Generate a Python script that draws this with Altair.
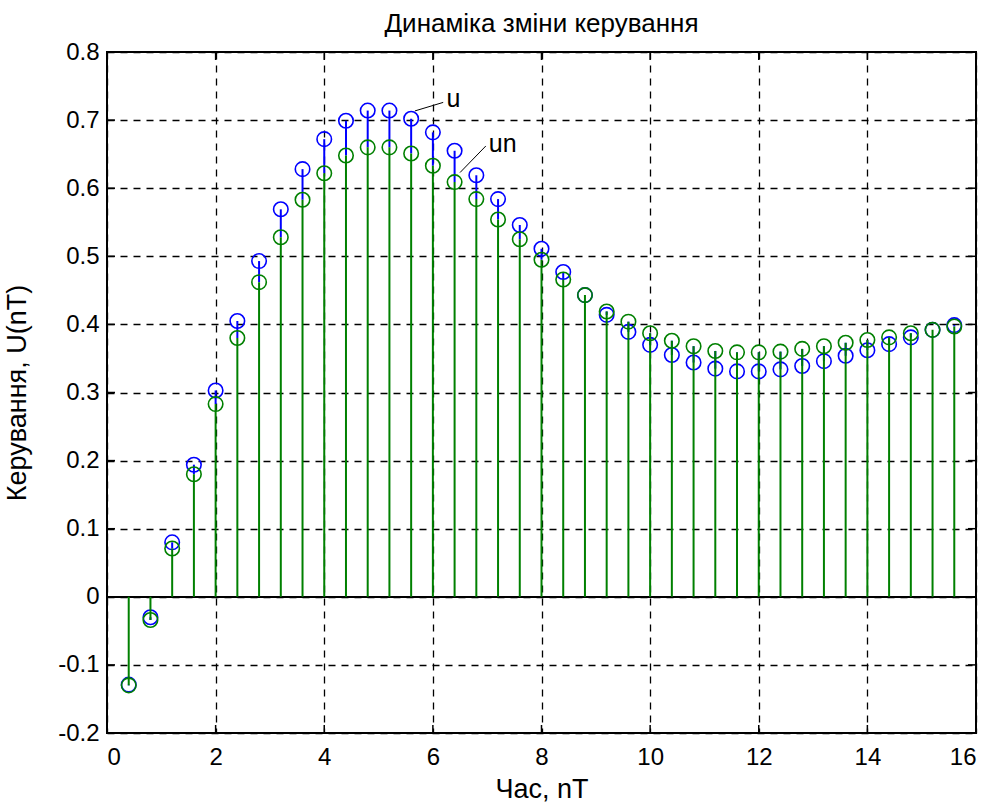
import altair as alt
import pandas as pd

# ---- data ----
t = [0.4, 0.8, 1.2, 1.6, 2.0, 2.4, 2.8, 3.2, 3.6, 4.0, 4.4, 4.8, 5.2, 5.6, 6.0,
     6.4, 6.8, 7.2, 7.6, 8.0, 8.4, 8.8, 9.2, 9.6, 10.0, 10.4, 10.8, 11.2, 11.6,
     12.0, 12.4, 12.8, 13.2, 13.6, 14.0, 14.4, 14.8, 15.2, 15.6]
u = [-0.129, -0.030, 0.080, 0.194, 0.303, 0.405, 0.493, 0.569, 0.628, 0.672,
     0.699, 0.714, 0.714, 0.702, 0.682, 0.655, 0.619, 0.584, 0.546, 0.511,
     0.477, 0.443, 0.414, 0.389, 0.370, 0.355, 0.344, 0.335, 0.331, 0.331,
     0.334, 0.339, 0.346, 0.354, 0.362, 0.371, 0.381, 0.392, 0.399]
un = [-0.130, -0.034, 0.071, 0.180, 0.283, 0.380, 0.462, 0.528, 0.583, 0.622,
      0.648, 0.660, 0.660, 0.651, 0.633, 0.609, 0.584, 0.554, 0.525, 0.495,
      0.466, 0.443, 0.419, 0.404, 0.387, 0.376, 0.368, 0.361, 0.359, 0.359,
      0.360, 0.364, 0.368, 0.373, 0.377, 0.381, 0.387, 0.392, 0.397]

x_ticks = [0, 2, 4, 6, 8, 10, 12, 14, 16]
y_ticks = [-0.2, -0.1, 0, 0.1, 0.2, 0.3, 0.4, 0.5, 0.6, 0.7, 0.8]

title_text = "Динаміка зміни керування"
x_title = "Час, nT"
y_title = "Керування, U(nT)"

# annotations (data coordinates)
ann_labels = ["u", "un"]
ann_text_x = [6.25, 7.03]
ann_text_y = [0.731, 0.665]
ann_line_x1 = [5.67, 6.50]
ann_line_y1 = [0.7135, 0.623]
ann_line_x2 = [6.19, 6.975]
ann_line_y2 = [0.726, 0.662]

FONT = "Liberation Sans, Arial, Helvetica, sans-serif"
W, H = 869, 681
BLUE = "#0000ff"
GREEN = "#008000"

df = pd.DataFrame({"t": t, "u": u, "un": un})
ann = pd.DataFrame({"label": ann_labels, "tx": ann_text_x, "ty": ann_text_y,
                    "x1": ann_line_x1, "y1": ann_line_y1,
                    "x2": ann_line_x2, "y2": ann_line_y2})
xt = pd.DataFrame({"v": x_ticks})
yt = pd.DataFrame({"v": y_ticks})

xs = alt.Scale(domain=[0, 16], nice=False, zero=False)
ys = alt.Scale(domain=[-0.2, 0.8], nice=False, zero=False)

x_axis = alt.Axis(values=x_ticks, title=x_title, grid=True, ticks=False,
                  domain=False, labelPadding=12, titlePadding=7,
                  labelExpr="toString(datum.value)")
y_axis = alt.Axis(values=y_ticks, title=y_title, grid=True, ticks=False,
                  domain=False, labelPadding=8, titlePadding=26,
                  labelExpr="toString(datum.value)")

base = alt.Chart(df)

# blue stems: visible part above the green stem (green is drawn over it)
blue_stem = base.mark_rule(color=BLUE, strokeWidth=2).encode(
    x=alt.X("t:Q", scale=xs, axis=x_axis),
    y=alt.Y("u:Q", scale=ys, axis=y_axis),
    y2="un:Q",
)
baseline = alt.Chart(xt).mark_rule(color="black", strokeWidth=1.5).encode(
    y=alt.datum(0, scale=ys), x=alt.value(0), x2=alt.value(W)
)
blue_pts = base.mark_point(shape="circle", color=BLUE, size=210,
                           strokeWidth=1.6, filled=False, opacity=1).encode(
    x=alt.X("t:Q", scale=xs), y=alt.Y("u:Q", scale=ys)
)
green_stem = base.mark_rule(color=GREEN, strokeWidth=2).encode(
    x=alt.X("t:Q", scale=xs), y=alt.Y("un:Q", scale=ys), y2=alt.datum(0)
)
green_pts = base.mark_point(shape="circle", color=GREEN, size=210,
                            strokeWidth=1.6, filled=False, opacity=1).encode(
    x=alt.X("t:Q", scale=xs), y=alt.Y("un:Q", scale=ys)
)

# inward tick marks (MATLAB style)
TL = 8
xtick_bot = alt.Chart(xt).mark_rule(color="black", strokeWidth=1.5).encode(
    x=alt.X("v:Q", scale=xs), y=alt.value(H), y2=alt.value(H - TL))
xtick_top = alt.Chart(xt).mark_rule(color="black", strokeWidth=1.5).encode(
    x=alt.X("v:Q", scale=xs), y=alt.value(0), y2=alt.value(TL))
ytick_l = alt.Chart(yt).mark_rule(color="black", strokeWidth=1.5).encode(
    y=alt.Y("v:Q", scale=ys), x=alt.value(0), x2=alt.value(TL))
ytick_r = alt.Chart(yt).mark_rule(color="black", strokeWidth=1.5).encode(
    y=alt.Y("v:Q", scale=ys), x=alt.value(W), x2=alt.value(W - TL))

ann_lines = alt.Chart(ann).mark_rule(color="black", strokeWidth=1).encode(
    x=alt.X("x1:Q", scale=xs), y=alt.Y("y1:Q", scale=ys),
    x2="x2:Q", y2="y2:Q")
ann_text = alt.Chart(ann).mark_text(align="left", baseline="middle",
                                    font=FONT, fontSize=25, color="black").encode(
    x=alt.X("tx:Q", scale=xs), y=alt.Y("ty:Q", scale=ys), text="label:N")

chart = alt.layer(
    blue_stem, baseline, blue_pts, green_stem, green_pts,
    xtick_bot, xtick_top, ytick_l, ytick_r, ann_lines, ann_text
).properties(
    width=W, height=H,
    title=alt.TitleParams(title_text, font=FONT, fontSize=26, fontWeight="normal",
                          color="black", offset=3, anchor="middle"),
    autosize=alt.AutoSizeParams(type="none"),
    padding={"left": 107, "top": 52, "right": 18, "bottom": 73},
    background="white",
).configure_view(
    stroke="black", strokeWidth=2
).configure_axis(
    gridColor="black", gridDash=[7, 6], gridWidth=1.3, gridOpacity=1,
    labelFont=FONT, labelFontSize=24, labelColor="black",
    titleFont=FONT, titleFontSize=27, titleFontWeight="normal", titleColor="black",
)

chart.save("out.html", embed_options={"renderer": "svg", "actions": False})
